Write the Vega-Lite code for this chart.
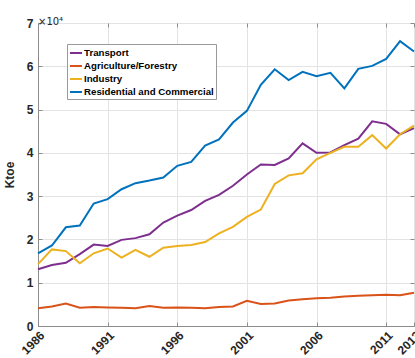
{
  "$schema": "https://vega.github.io/schema/vega-lite/v6.json",
  "width": 376,
  "height": 303,
  "autosize": {"type": "none"},
  "padding": {"left": 38, "top": 23, "right": 1, "bottom": 32},
  "background": "white",
  "config": {
    "font": "Liberation Sans",
    "view": {"stroke": "#8c8c8c", "strokeWidth": 1},
    "axis": {
      "domainColor": "#8c8c8c",
      "tickColor": "#8c8c8c",
      "labelColor": "#262626",
      "titleColor": "#262626",
      "labelFont": "Liberation Sans",
      "titleFont": "Liberation Sans",
      "labelFontWeight": "bold",
      "titleFontWeight": "bold",
      "labelFontSize": 12,
      "titleFontSize": 12,
      "gridColor": "#e3e3e3",
      "gridWidth": 1
    }
  },
  "title": {
    "text": "×10⁴",
    "anchor": "start",
    "frame": "group",
    "font": "DejaVu Sans",
    "fontSize": 10,
    "fontWeight": "normal",
    "color": "#262626",
    "offset": -10
  },
  "data": {
    "values": [
      {"year": 1986, "Transport": 13100, "Agriculture/Forestry": 4100, "Industry": 14300, "Residential and Commercial": 16800},
      {"year": 1987, "Transport": 14100, "Agriculture/Forestry": 4500, "Industry": 17700, "Residential and Commercial": 18600},
      {"year": 1988, "Transport": 14600, "Agriculture/Forestry": 5200, "Industry": 17300, "Residential and Commercial": 22800},
      {"year": 1989, "Transport": 16600, "Agriculture/Forestry": 4200, "Industry": 14500, "Residential and Commercial": 23200},
      {"year": 1990, "Transport": 18800, "Agriculture/Forestry": 4400, "Industry": 16800, "Residential and Commercial": 28300},
      {"year": 1991, "Transport": 18500, "Agriculture/Forestry": 4300, "Industry": 17900, "Residential and Commercial": 29300},
      {"year": 1992, "Transport": 19900, "Agriculture/Forestry": 4200, "Industry": 15800, "Residential and Commercial": 31600},
      {"year": 1993, "Transport": 20300, "Agriculture/Forestry": 4100, "Industry": 17600, "Residential and Commercial": 33000},
      {"year": 1994, "Transport": 21200, "Agriculture/Forestry": 4600, "Industry": 16000, "Residential and Commercial": 33600},
      {"year": 1995, "Transport": 23900, "Agriculture/Forestry": 4200, "Industry": 18100, "Residential and Commercial": 34300},
      {"year": 1996, "Transport": 25500, "Agriculture/Forestry": 4300, "Industry": 18500, "Residential and Commercial": 37000},
      {"year": 1997, "Transport": 26800, "Agriculture/Forestry": 4200, "Industry": 18700, "Residential and Commercial": 37900},
      {"year": 1998, "Transport": 28900, "Agriculture/Forestry": 4100, "Industry": 19400, "Residential and Commercial": 41700},
      {"year": 1999, "Transport": 30300, "Agriculture/Forestry": 4400, "Industry": 21400, "Residential and Commercial": 43100},
      {"year": 2000, "Transport": 32400, "Agriculture/Forestry": 4500, "Industry": 22900, "Residential and Commercial": 47000},
      {"year": 2001, "Transport": 35000, "Agriculture/Forestry": 5800, "Industry": 25200, "Residential and Commercial": 49700},
      {"year": 2002, "Transport": 37300, "Agriculture/Forestry": 5100, "Industry": 26900, "Residential and Commercial": 55700},
      {"year": 2003, "Transport": 37200, "Agriculture/Forestry": 5200, "Industry": 32800, "Residential and Commercial": 59300},
      {"year": 2004, "Transport": 38700, "Agriculture/Forestry": 5900, "Industry": 34800, "Residential and Commercial": 56800},
      {"year": 2005, "Transport": 42200, "Agriculture/Forestry": 6200, "Industry": 35300, "Residential and Commercial": 58700},
      {"year": 2006, "Transport": 40000, "Agriculture/Forestry": 6400, "Industry": 38500, "Residential and Commercial": 57700},
      {"year": 2007, "Transport": 40100, "Agriculture/Forestry": 6500, "Industry": 40000, "Residential and Commercial": 58500},
      {"year": 2008, "Transport": 41800, "Agriculture/Forestry": 6800, "Industry": 41400, "Residential and Commercial": 54900},
      {"year": 2009, "Transport": 43300, "Agriculture/Forestry": 7000, "Industry": 41400, "Residential and Commercial": 59400},
      {"year": 2010, "Transport": 47300, "Agriculture/Forestry": 7100, "Industry": 44100, "Residential and Commercial": 60100},
      {"year": 2011, "Transport": 46700, "Agriculture/Forestry": 7200, "Industry": 41000, "Residential and Commercial": 61700},
      {"year": 2012, "Transport": 44300, "Agriculture/Forestry": 7100, "Industry": 44300, "Residential and Commercial": 65800},
      {"year": 2013, "Transport": 45700, "Agriculture/Forestry": 7700, "Industry": 46300, "Residential and Commercial": 63400}
    ]
  },
  "transform": [
    {"fold": ["Transport", "Agriculture/Forestry", "Industry", "Residential and Commercial"], "as": ["sector", "ktoe"]}
  ],
  "layer": [
    {
      "mark": {"type": "line", "strokeWidth": 2},
      "encoding": {
        "x": {
          "field": "year",
          "type": "quantitative",
          "scale": {"domain": [1986, 2013], "nice": false, "zero": false},
          "axis": {
            "orient": "bottom",
            "title": null,
            "values": [1986, 1991, 1996, 2001, 2006, 2011, 2013],
            "format": "d",
            "labelAngle": -45,
            "labelAlign": "right",
            "labelBaseline": "middle",
            "labelPadding": 11,
            "labelOffset": 4,
            "tickSize": -4,
            "grid": true
          }
        },
        "y": {
          "field": "ktoe",
          "type": "quantitative",
          "scale": {"domain": [0, 70000], "nice": false},
          "axis": {
            "orient": "left",
            "title": "Ktoe",
            "titlePadding": 10,
            "values": [0, 10000, 20000, 30000, 40000, 50000, 60000, 70000],
            "labelExpr": "format(datum.value / 10000, 'd')",
            "labelPadding": 9,
            "tickSize": -4,
            "grid": true
          }
        },
        "color": {
          "field": "sector",
          "type": "nominal",
          "sort": ["Transport", "Agriculture/Forestry", "Industry", "Residential and Commercial"],
          "scale": {
            "domain": ["Transport", "Agriculture/Forestry", "Industry", "Residential and Commercial"],
            "range": ["#7E2F8E", "#D95319", "#EDB120", "#0072BD"]
          },
          "legend": {
            "title": null,
            "orient": "none",
            "legendX": 29,
            "legendY": 21,
            "direction": "vertical",
            "symbolType": "stroke",
            "symbolSize": 144,
            "symbolStrokeWidth": 2,
            "labelFont": "Liberation Sans",
            "labelFontWeight": "bold",
            "labelFontSize": 9.7,
            "labelColor": "#000000",
            "labelOffset": 1,
            "rowPadding": 1,
            "strokeColor": "#9a9a9a",
            "fillColor": "white",
            "padding": 2,
            "labelLimit": 200
          }
        }
      }
    },
    {
      "mark": {"type": "line", "strokeOpacity": 0},
      "encoding": {
        "x": {
          "field": "year",
          "type": "quantitative",
          "axis": {"orient": "top", "title": null, "labels": false, "grid": false, "domain": false, "tickSize": -4, "values": [1986, 1991, 1996, 2001, 2006, 2011, 2013]}
        },
        "y": {
          "field": "ktoe",
          "type": "quantitative",
          "axis": {"orient": "right", "title": null, "labels": false, "grid": false, "domain": false, "tickSize": -4, "values": [0, 10000, 20000, 30000, 40000, 50000, 60000, 70000]}
        },
        "detail": {"field": "sector"}
      }
    }
  ],
  "resolve": {"axis": {"x": "independent", "y": "independent"}}
}
